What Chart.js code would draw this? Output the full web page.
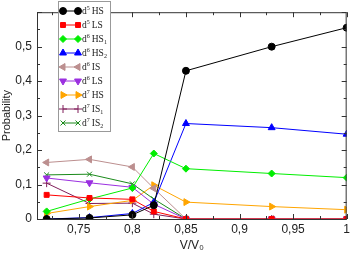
<!DOCTYPE html>
<html>
<head>
<meta charset="utf-8">
<script src="https://cdn.jsdelivr.net/npm/chart.js@4"></script>
<style>
  html, body { margin: 0; padding: 0; background: #fff; }
  #wrap { width: 353px; height: 253px; }
</style>
</head>
<body>
<div id="wrap"><canvas id="chart" width="353" height="253"></canvas></div>
<script>
// volume ratio points
const volumes = [0.72, 0.76, 0.80, 0.82, 0.85, 0.93, 1.0];

// probabilities
const d5HS  = [0.000, 0.003, 0.012, 0.040, 0.430, 0.500, 0.555];
const d5LS  = [0.070, 0.061, 0.057, 0.022, 0.000, 0.000, 0.000];
const d6HS1 = [0.022, 0.058, 0.090, 0.190, 0.146, 0.132, 0.120];
const d6HS2 = [0.000, 0.004, 0.016, 0.048, 0.277, 0.265, 0.246];
const d6IS  = [0.164, 0.173, 0.151, 0.089, 0.000, 0.000, 0.000];
const d6LS  = [0.119, 0.105, 0.092, 0.043, 0.000, 0.000, 0.000];
const d7HS  = [0.016, 0.036, 0.054, 0.098, 0.049, 0.036, 0.027];
const d7IS1 = [0.104, 0.045, 0.046, 0.014, 0.000, 0.000, 0.000];
const d7IS2 = [0.128, 0.130, 0.102, 0.058, 0.000, 0.000, 0.000];

// legend text: base, superscript, name, subscript
const seriesNames = [
  ['d', '5', 'HS', ''], ['d', '5', 'LS', ''], ['d', '6', 'HS', '1'],
  ['d', '6', 'HS', '2'], ['d', '6', 'IS', ''], ['d', '6', 'LS', ''],
  ['d', '7', 'HS', ''], ['d', '7', 'IS', '1'], ['d', '7', 'IS', '2']
];
const yTicks = [0, 0.1, 0.2, 0.3, 0.4, 0.5];

const seriesData = [d5HS, d5LS, d6HS1, d6HS2, d6IS, d6LS, d7HS, d7IS1, d7IS2];
const styles = [
  { color: '#000000', point: 'circle', rot: 0, r: 3.5 },
  { color: '#ff0000', point: 'rect', rot: 0, r: 3.5 },
  { color: '#00ee00', point: 'rectRot', rot: 0, r: 3.5 },
  { color: '#0000ff', point: 'triangle', rot: 0, r: 4 },
  { color: '#bc8f8f', point: 'triangle', rot: -90, r: 4 },
  { color: '#9b30e0', point: 'triangle', rot: 180, r: 4 },
  { color: '#ffa500', point: 'triangle', rot: 90, r: 4 },
  { color: '#801e5a', point: 'cross', rot: 0, r: 4 },
  { color: '#1a8a1a', point: 'crossRot', rot: 0, r: 3.5 }
];

const datasets = seriesData.map((vals, i) => ({
  label: seriesNames[i].join(''),
  data: vals.map((v, k) => ({ x: volumes[k], y: v })),
  borderColor: styles[i].color,
  backgroundColor: styles[i].color,
  borderWidth: 1,
  pointStyle: styles[i].point,
  pointRotation: styles[i].rot,
  pointRadius: styles[i].r,
  pointBorderWidth: 1,
  tension: 0
}));

// frame, inward ticks and legend box
const framePlugin = {
  id: 'frame',
  afterDatasetsDraw(chart) {
    const { ctx, chartArea: a, scales } = chart;
    ctx.save();
    ctx.strokeStyle = '#333';
    ctx.lineWidth = 1;
    ctx.strokeRect(a.left + 0.5, a.top + 0.5, a.right - a.left - 1, a.bottom - a.top);

    ctx.beginPath();
    scales.x.ticks.forEach(t => {
      const px = Math.round(scales.x.getPixelForValue(t.value)) + 0.5;
      const major = Math.abs(t.value * 20 - Math.round(t.value * 20)) < 1e-6;
      const len = major ? 5 : 3;
      ctx.moveTo(px, a.bottom); ctx.lineTo(px, a.bottom - len);
      ctx.moveTo(px, a.top); ctx.lineTo(px, a.top + len);
    });
    for (let v = 0; v <= 0.6001; v += 0.05) {
      const py = Math.round(scales.y.getPixelForValue(v)) + 0.5;
      const major = Math.abs(v * 10 - Math.round(v * 10)) < 1e-6;
      const len = major ? 5 : 3;
      ctx.moveTo(a.left, py); ctx.lineTo(a.left + len, py);
      ctx.moveTo(a.right, py); ctx.lineTo(a.right - len, py);
    }
    ctx.stroke();

    // legend
    const bx = 58.5, by = 1.5, bw = 52, bh = 130;
    ctx.fillStyle = '#fff';
    ctx.fillRect(bx, by, bw, bh);
    ctx.strokeStyle = '#999';
    ctx.strokeRect(bx, by, bw, bh);
    datasets.forEach((ds, i) => {
      const y = 11 + i * 14;
      ctx.strokeStyle = ds.borderColor;
      ctx.fillStyle = ds.backgroundColor;
      ctx.lineWidth = 1;
      ctx.beginPath();
      ctx.moveTo(63, y); ctx.lineTo(78, y);
      ctx.stroke();
      [63, 78].forEach(px => {
        Chart.helpers.drawPoint(ctx, {
          pointStyle: ds.pointStyle, radius: ds.pointRadius,
          rotation: ds.pointRotation, borderWidth: 1
        }, px, y);
      });
      const [base, sup, name, sub] = seriesNames[i];
      ctx.fillStyle = '#222';
      ctx.textBaseline = 'alphabetic';
      let tx = 82;
      ctx.font = '9.5px "Liberation Serif"';
      ctx.fillText(base, tx, y + 3); tx += ctx.measureText(base).width;
      ctx.font = '6px "Liberation Serif"';
      ctx.fillText(sup, tx, y - 1); tx += ctx.measureText(sup).width + 2;
      ctx.font = '9.5px "Liberation Serif"';
      ctx.fillText(name, tx, y + 3); tx += ctx.measureText(name).width;
      if (sub) {
        ctx.font = '6px "Liberation Serif"';
        ctx.fillText(sub, tx, y + 5);
      }
    });
    ctx.restore();
  }
};

const fmt = v => String(Math.round(v * 100) / 100).replace('.', ',');

new Chart(document.getElementById('chart'), {
  type: 'line',
  data: { datasets },
  options: {
    responsive: false,
    animation: false,
    layout: { padding: { top: 2, right: 4, left: 0, bottom: 0 } },
    plugins: { legend: { display: false }, tooltip: { enabled: false } },
    scales: {
      x: {
        type: 'linear',
        min: 0.711,
        max: 1.0,
        afterBuildTicks(s) {
          const out = [];
          for (let v = 0.725; v <= 1.0001; v += 0.025) out.push({ value: Math.round(v * 1000) / 1000 });
          s.ticks = out;
        },
        afterFit(s) { s.height = 34; },
        grid: { display: false, drawTicks: false },
        border: { display: false },
        ticks: {
          padding: 3,
          maxRotation: 0,
          autoSkip: false,
          color: '#222',
          font: { family: '"Liberation Sans"', size: 12 },
          callback: v => Math.abs(v * 20 - Math.round(v * 20)) < 1e-6 ? fmt(v) : ''
        },
        title: {
          display: true,
          text: 'V/V₀',
          color: '#222',
          padding: { top: 1, bottom: 0 },
          font: { family: '"Liberation Sans"', size: 12 }
        }
      },
      y: {
        min: 0,
        max: 0.6,
        afterBuildTicks(s) { s.ticks = yTicks.map(v => ({ value: v })); },
        afterFit(s) { s.width = 37; },
        grid: { display: false, drawTicks: false },
        border: { display: false },
        ticks: {
          padding: 5,
          color: '#222',
          font: { family: '"Liberation Sans"', size: 12 },
          callback: v => fmt(v)
        },
        title: {
          display: true,
          text: 'Probability',
          color: '#222',
          padding: { top: 0, bottom: 0 },
          font: { family: '"Liberation Sans"', size: 11 }
        }
      }
    }
  },
  plugins: [framePlugin]
});
</script>
</body>
</html>
